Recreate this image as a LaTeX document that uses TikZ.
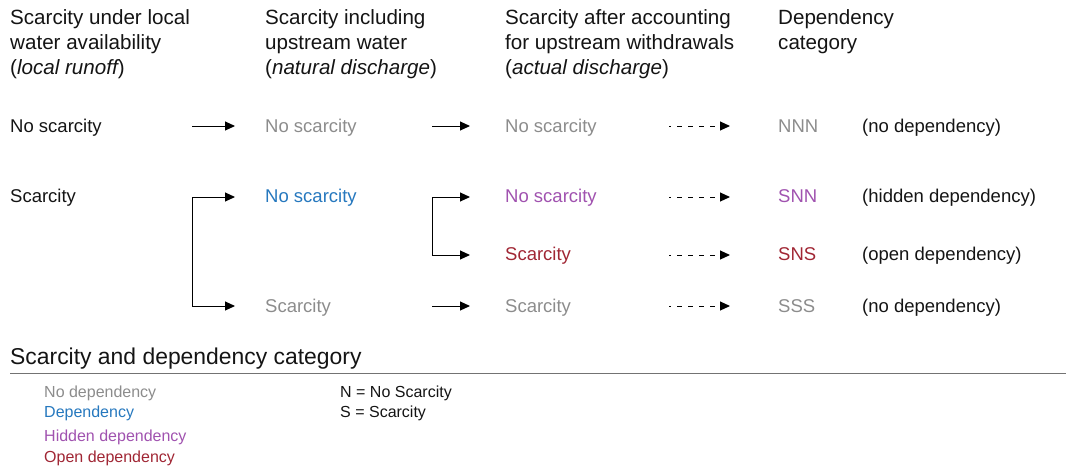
\documentclass[tikz,border=0pt]{standalone}
\usepackage{fontspec}
\setmainfont{Liberation Sans}
\usetikzlibrary{arrows.meta}
\definecolor{ScarNone}{RGB}{140,140,140}
\definecolor{ScarDep}{RGB}{38,120,190}
\definecolor{ScarHidden}{RGB}{160,82,175}
\definecolor{ScarOpen}{RGB}{160,38,52}
\definecolor{ScarText}{RGB}{20,20,20}

\begin{document}
\begin{tikzpicture}[x=1pt,y=-1pt,
  lbl/.style={anchor=base west,inner sep=0,text=ScarText,font=\fontsize{18.5}{25}\selectfont},
  hdr/.style={lbl,anchor=north west,align=left,font=\fontsize{20.6}{25}\selectfont},
  leg/.style={lbl,font=\fontsize{16}{20}\selectfont},
  arr/.style={-{Triangle[length=10pt,width=9pt]},line width=1pt},
  darr/.style={arr,dash pattern=on 5pt off 6pt,dash phase=3pt}]
\useasboundingbox (0,0) rectangle (1066,467);
% column headers
\node[hdr] (h1) at (10,9) {Scarcity under local\\water availability\\({\itshape local runoff})};
\node[hdr] (h2) at (265,9) {Scarcity including\\upstream water\\({\itshape natural discharge})};
\node[hdr] (h3) at (505,9) {Scarcity after accounting\\for upstream withdrawals\\({\itshape actual discharge})};
\node[hdr] (h4) at (778,9) {Dependency\\category};
% local runoff
\node[lbl] (a1) at (10,132) {No scarcity};
\node[lbl] (a2) at (10,202) {Scarcity};
% natural discharge
\node[lbl,text=ScarNone] (b1) at (265,132) {No scarcity};
\node[lbl,text=ScarDep] (b2) at (265,202) {No scarcity};
\node[lbl,text=ScarNone] (b4) at (265,312) {Scarcity};
% actual discharge
\node[lbl,text=ScarNone] (c1) at (505,132) {No scarcity};
\node[lbl,text=ScarHidden] (c2) at (505,202) {No scarcity};
\node[lbl,text=ScarOpen] (c3) at (505,260) {Scarcity};
\node[lbl,text=ScarNone] (c4) at (505,312) {Scarcity};
% categories
\foreach \n/\y/\c/\k/\t in %
{1/132/ScarNone/NNN/no dependency,2/202/ScarHidden/SNN/hidden dependency,
 3/260/ScarOpen/SNS/open dependency,4/312/ScarNone/SSS/no dependency} {
   \node[lbl,text=\c] (d\n) at (778,\y) {\k};
   \node[lbl] (e\n) at (862,\y) {(\t)};
}
% arrows
\coordinate (j1) at (192,126);
\coordinate (j2) at (192,197);
\coordinate (j4) at (192,306);
\draw[arr,shorten >=30pt] (j1) -- (j1 -| b1.west);
\draw[arr,shorten >=30pt] (j4) |- (j2 -| b2.west);
\draw[arr,shorten >=30pt] (j4) -- (j4 -| b4.west);
\coordinate (k1) at (432,126);
\coordinate (k2) at (432,197);
\coordinate (k3) at (432,255);
\coordinate (k4) at (432,306);
\draw[arr,shorten >=35pt] (k1) -- (k1 -| c1.west);
\draw[arr,shorten >=35pt] (k3) |- (k2 -| c2.west);
\draw[arr,shorten >=35pt] (k3) -- (k3 -| c3.west);
\draw[arr,shorten >=35pt] (k4) -- (k4 -| c4.west);
\foreach \n/\y in {1/126,2/197,3/255,4/306} {
   \coordinate (s\n) at (669,\y);
   \draw[darr,shorten >=48pt] (s\n) -- (s\n -| d\n.west);
}
% legend
\node[lbl,font=\fontsize{22.9}{25}\selectfont] (t) at (10,364) {Scarcity and dependency category};
\draw[line width=1.5pt,draw=black!55] (10,373.5) -- (1066,373.5);
\foreach \n/\y/\c/\t in %
{1/397/ScarNone/No dependency,2/417/ScarDep/Dependency,
 3/441/ScarHidden/Hidden dependency,4/462/ScarOpen/Open dependency} {
   \node[leg,text=\c] (l\n) at (44,\y) {\t};
}
\node[leg] (n) at (340,397) {N = No Scarcity};
\node[leg] (s) at (340,417) {S = Scarcity};
\end{tikzpicture}
\end{document}
